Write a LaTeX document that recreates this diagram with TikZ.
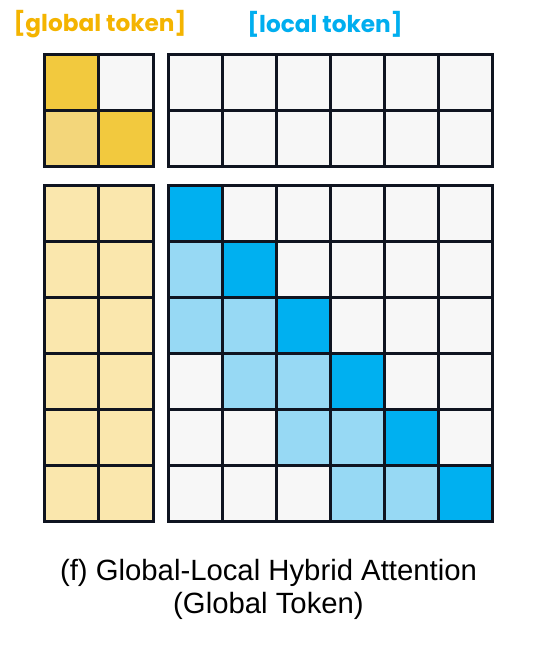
\documentclass[tikz,border=0pt]{standalone}
\usepackage{fontspec}
\setmainfont{Liberation Sans}
\newfontfamily\labelfont{Poppins}
\definecolor{gridline}{HTML}{0F1420}
\definecolor{cellwhite}{HTML}{F7F7F7}
\definecolor{ydark}{HTML}{F2C93E}
\definecolor{ylight}{HTML}{F3D67A}
\definecolor{ypale}{HTML}{FAE7AD}
\definecolor{bdark}{HTML}{00B0F0}
\definecolor{blight}{HTML}{97D9F4}
\definecolor{glabel}{HTML}{F4B400}
\definecolor{llabel}{HTML}{00AEEF}
\tikzset{
  cellbox/.style={draw=gridline, line width=3pt, inner sep=0pt, outer sep=0pt, anchor=north west},
  tokenlabel/.style={font=\labelfont\bfseries\fontsize{23.2}{26}\selectfont, inner sep=0pt},
  caption/.style={font=\fontsize{29.3}{33}\selectfont, inner sep=0pt, align=center}
}
\begin{document}
\begin{tikzpicture}[x=1pt,y=-1pt]
\useasboundingbox (0,0) rectangle (537,667);
\fill[white] (0,0) rectangle (537,667);
% labels
\node[tokenlabel, text=glabel] (glab) at (100,24) {[global token]};
\node[tokenlabel, text=llabel] (llab) at (325,24) {[local token]};
% top-left global block
\def\gw{54.25}
\def\lw{54.08}
\def\th{55.75}
\def\bh{56}
\node[cellbox, fill=ydark, minimum width=\gw, minimum height=\th] (g11) at (44.5,54.5) {};
\node[cellbox, fill=cellwhite, minimum width=\gw, minimum height=\th] (g12) at (44.5+\gw,54.5) {};
\node[cellbox, fill=ylight, minimum width=\gw, minimum height=\th] (g21) at (44.5,54.5+\th) {};
\node[cellbox, fill=ydark, minimum width=\gw, minimum height=\th] (g22) at (44.5+\gw,54.5+\th) {};
% top-right block
\foreach \r in {1,2}{
  \foreach \c in {1,...,6}{
    \node[cellbox, fill=cellwhite, minimum width=\lw, minimum height=\th] (t\r\c) at ({168.5+(\c-1)*\lw},{54.5+(\r-1)*\th}) {};
  }
}
% bottom-left block
\foreach \r in {1,...,6}{
  \foreach \c in {1,2}{
    \node[cellbox, fill=ypale, minimum width=\gw, minimum height=\bh] (bl\r\c) at ({44.5+(\c-1)*\gw},{185+(\r-1)*\bh}) {};
  }
}
% bottom-right block
\foreach \r in {1,...,6}{
  \foreach \c in {1,...,6}{
    \pgfmathtruncatemacro{\d}{\r-\c}
    \ifnum\d=0 \def\cc{bdark}\else
      \ifnum\d=1 \def\cc{blight}\else
        \ifnum\d=2 \def\cc{blight}\else \def\cc{cellwhite}\fi\fi\fi
    \node[cellbox, fill=\cc, minimum width=\lw, minimum height=\bh] (br\r\c) at ({168.5+(\c-1)*\lw},{185+(\r-1)*\bh}) {};
  }
}
% caption
\node[caption] (cap) at (268.5,589) {(f) Global-Local Hybrid Attention\\(Global Token)};
\end{tikzpicture}
\end{document}
